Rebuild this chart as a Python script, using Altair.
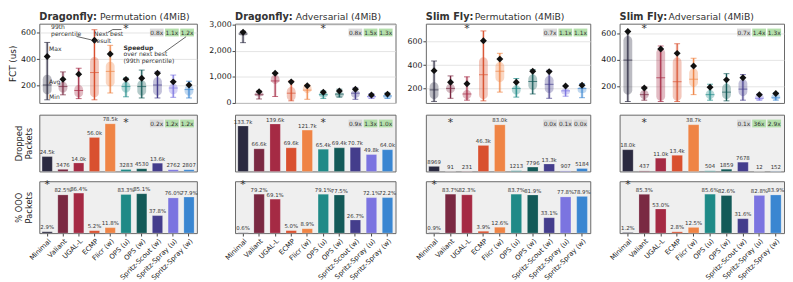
import altair as alt
import pandas as pd

CATS = ["Minimal", "Valiant", "UGAL-L", "ECMP", "Flicr (w)", "OPS (u)", "OPS (w)",
        "Spritz-Scout (w)", "Spritz-Spray (u)", "Spritz-Spray (w)"]
COLORS = ["#2b2a40", "#7a2942", "#a52a44", "#d9502f", "#ef8445", "#1f8a87", "#145a58",
          "#443d8c", "#7b74e0", "#3a86d1"]

# ---- FCT (us) : Dragonfly Permutation
dfp_min = [89, 127, 98, 89, 141, 112, 103, 103, 108, 103]
dfp_max = [527, 302, 330, 624, 505, 255, 316, 302, 278, 231]
dfp_avg = [202, 190, 160, 297, 306, 190, 190, 202, 179, 167]
dfp_p99 = [420, 245, 285, 543, 439, 245, 254, 292, 226, 202]
dfp_lo = [130, 143, 108, 108, 190, 143, 120, 120, 131, 120]
dfp_hi = [280, 226, 202, 415, 380, 226, 238, 262, 214, 202]
# ---- Dragonfly Adversarial
dfa_min = [2320, 153, 247, 82, 141, 176, 224, 141, 176, 176]
dfa_max = [2760, 460, 1165, 847, 694, 460, 529, 576, 365, 388]
dfa_avg = [2650, 318, 847, 376, 494, 318, 341, 376, 247, 270]
dfa_p99 = [2720, 435, 1141, 812, 659, 412, 459, 529, 306, 341]
dfa_lo = [2600, 259, 729, 82, 376, 224, 224, 200, 176, 176]
dfa_hi = [2750, 412, 1082, 611, 729, 412, 412, 494, 294, 318]
# ---- Slim Fly Permutation
sfp_min = [88, 115, 99, 93, 168, 125, 152, 115, 133, 120]
sfp_max = [435, 307, 299, 693, 501, 285, 360, 355, 221, 240]
sfp_avg = [187, 200, 152, 317, 347, 200, 259, 235, 179, 200]
sfp_p99 = [352, 253, 240, 608, 451, 253, 347, 344, 221, 227]
sfp_lo = [107, 160, 107, 107, 253, 147, 187, 160, 147, 160]
sfp_hi = [253, 240, 187, 467, 427, 227, 320, 307, 200, 213]
# ---- Slim Fly Adversarial
sfa_min = [85, 95, 85, 85, 137, 95, 90, 95, 95, 95]
sfa_max = [616, 195, 506, 523, 413, 216, 296, 289, 142, 151]
sfa_avg = [399, 137, 265, 235, 254, 137, 156, 179, 109, 113]
sfa_p99 = [616, 188, 483, 450, 354, 193, 249, 265, 137, 146]
sfa_lo = [137, 102, 90, 90, 195, 102, 102, 125, 95, 99]
sfa_hi = [581, 172, 488, 418, 336, 172, 219, 254, 137, 142]

# ---- Dropped packets
drop_dfp = [24500, 3476, 14000, 56000, 78500, 3283, 4530, 13600, 2762, 2807]
drop_dfp_lab = ["24.5k", "3476", "14.0k", "56.0k", "78.5k", "3283", "4530", "13.6k", "2762", "2807"]
drop_dfa = [133700, 66600, 139600, 69600, 121700, 65400, 69400, 70700, 49800, 64000]
drop_dfa_lab = ["133.7k", "66.6k", "139.6k", "69.6k", "121.7k", "65.4k", "69.4k", "70.7k", "49.8k", "64.0k"]
drop_sfp = [8969, 91, 231, 46300, 83000, 1213, 7796, 13300, 907, 5184]
drop_sfp_lab = ["8969", "91", "231", "46.3k", "83.0k", "1213", "7796", "13.3k", "907", "5184"]
drop_sfa = [18000, 437, 11000, 13400, 38700, 504, 1859, 7678, 12, 152]
drop_sfa_lab = ["18.0k", "437", "11.0k", "13.4k", "38.7k", "504", "1859", "7678", "12", "152"]

# ---- % OOO packets
ooo_dfp = [2.9, 82.5, 86.4, 5.2, 11.8, 83.3, 85.1, 37.8, 76.0, 77.9]
ooo_dfa = [0.6, 79.2, 69.1, 5.0, 8.9, 79.1, 77.5, 26.7, 72.1, 72.2]
ooo_sfp = [0.9, 83.7, 82.3, 3.9, 12.6, 83.7, 81.9, 33.1, 77.8, 78.9]
ooo_sfa = [1.2, 85.3, 53.0, 2.8, 12.5, 85.6, 82.6, 31.6, 82.8, 83.9]

# ---- speedup badges
badge_top = [["0.8x", "1.1x", "1.2x"], ["0.8x", "1.5x", "1.3x"], ["0.7x", "1.1x", "1.1x"], ["0.7x", "1.4x", "1.3x"]]
badge_top_ok = [[0, 1, 1], [0, 1, 1], [0, 1, 1], [0, 1, 1]]
badge_mid = [["0.2x", "1.2x", "1.2x"], ["0.9x", "1.3x", "1.0x"], ["0.0x", "0.1x", "0.0x"], ["0.1x", "36x", "2.9x"]]
badge_mid_ok = [[0, 1, 1], [0, 1, 1], [0, 0, 0], [0, 1, 1]]

best_top = ["OPS (u)", "OPS (u)", "UGAL-L", "Valiant"]
best_mid = ["OPS (u)", "OPS (u)", "Valiant", "Valiant"]
best_bot = ["Minimal", "Minimal", "Minimal", "Minimal"]

TITLES = [("Dragonfly:", "Permutation (4MiB)"), ("Dragonfly:", "Adversarial (4MiB)"),
          ("Slim Fly:", "Permutation (4MiB)"), ("Slim Fly:", "Adversarial (4MiB)")]

WIDTHS = [161, 164, 168, 168]
H_TOP, H_MID, H_BOT = 81, 58, 53
TXT = "#333333"
GRAY_B, GREEN_B = "#dadada", "#b4dfab"


def xenc(axis=None):
    return alt.X("cat:N", sort=CATS, title=None, axis=axis,
                 scale=alt.Scale(domain=CATS, paddingInner=0.35, paddingOuter=0.175))


COLOR = alt.Color("cat:N", scale=alt.Scale(domain=CATS, range=COLORS), legend=None)


def one(text):
    return pd.DataFrame({"t": [text]})


def label(text, x, y, size=6.2, bold=False, align="left", baseline="middle"):
    return alt.Chart(one(text)).mark_text(
        align=align, baseline=baseline, fontSize=size, color=TXT,
        fontWeight="bold" if bold else "normal").encode(
        x=alt.value(x), y=alt.value(y), text="t:N")


def seg(x0, y0, x1, y1):
    return alt.Chart(one("")).mark_rule(color="#222", strokeWidth=0.7).encode(
        x=alt.value(x0), x2=alt.value(x1), y=alt.value(y0), y2=alt.value(y1))


def badges(texts, oks, width, y0, y1):
    out = []
    for i, (t, ok) in enumerate(zip(texts, oks)):
        x1 = width - 3 - (2 - i) * 15.5
        x0 = x1 - 14
        out.append(alt.Chart(one(t)).mark_rect(fill=GREEN_B if ok else GRAY_B).encode(
            x=alt.value(x0), x2=alt.value(x1), y=alt.value(y0), y2=alt.value(y1)))
        out.append(label(t, (x0 + x1) / 2, (y0 + y1) / 2 + 0.3, size=6, align="center"))
    return out


def star(cat, y, axis=None):
    return alt.Chart(pd.DataFrame({"cat": [cat]})).mark_text(
        text="*", fontSize=11, color=TXT, baseline="middle").encode(x=xenc(axis), y=alt.value(y))


def top_panel(i, mins, maxs, avgs, p99s, los, his, domain, ticks, annot=False):
    w = WIDTHS[i]
    df = pd.DataFrame({"cat": CATS, "mn": mins, "mx": maxs, "avg": avgs,
                       "p99": p99s, "lo": los, "hi": his})
    ys = alt.Scale(domain=domain, nice=False, zero=False)
    yax = alt.Axis(values=ticks, title="FCT (us)" if i == 0 else None, grid=True,
                   gridColor="#dcdcdc", gridWidth=0.8, domain=False, tickSize=3,
                   tickColor="#444", labelFontSize=8, labelPadding=1, labelColor="#222",
                   titleFontSize=9, titleFontWeight="normal", titlePadding=3, titleColor="#222")

    def Y(f):
        return alt.Y(f"{f}:Q", scale=ys, axis=yax)

    base = alt.Chart(df)
    layers = [
        base.mark_bar(size=3, opacity=0.2).encode(x=xenc(), y=Y("mn"), y2="mx:Q", color=COLOR),
        base.mark_bar(size=9, opacity=0.32, cornerRadius=4.5).encode(x=xenc(), y=Y("lo"), y2="hi:Q", color=COLOR),
        base.mark_rule(strokeWidth=1.1).encode(x=xenc(), y=Y("mn"), y2="mx:Q", color=COLOR),
        base.mark_tick(size=6, thickness=1).encode(x=xenc(), y=Y("mn"), color=COLOR),
        base.mark_tick(size=6, thickness=1).encode(x=xenc(), y=Y("mx"), color=COLOR),
        base.mark_tick(size=9, thickness=1).encode(x=xenc(), y=Y("avg"), color=COLOR),
        base.mark_point(shape="diamond", filled=True, size=50, color="#111", opacity=1).encode(
            x=xenc(), y=Y("p99")),
        star(best_top[i], 6),
    ]
    bold, rest = TITLES[i]
    layers.append(label(bold, 0, -4, size=10, bold=True, baseline="alphabetic"))
    layers.append(label(rest, 62 if bold.startswith("Dragon") else 50, -4, size=9.5, baseline="alphabetic"))
    layers += badges(badge_top[i], badge_top_ok[i], w, 5, 13)
    if annot:
        layers += [
            label("99th", 12, 3.5), label("percentile", 12, 10.5),
            label("Next best", 56, 11), label("result", 56, 18),
            label("Max", 10, 25.7), label("Avg", 10, 59.7), label("Min", 10, 75),
            label("Speedup", 86, 24.5, bold=True), label("over next best", 86, 31.5),
            label("(99th percentile)", 86, 38),
            seg(38, 13, 53, 16.5), seg(75, 6, 84, 6), seg(75, 6, 70, 9),
            seg(128, 29, 150, 13.3),
        ]
    return alt.layer(*layers).properties(
        width=w, height=H_TOP, view=alt.ViewBackground(fill="white", stroke="#666", strokeWidth=1))


def bar_panel(i, vals, labs, domain, height, title, best, star_y, btexts=None, boks=None, xaxis=None):
    w = WIDTHS[i]
    df = pd.DataFrame({"cat": CATS, "v": vals, "lab": labs})
    ys = alt.Scale(domain=domain, nice=False)
    if i == 0:
        yax = alt.Axis(title=title, labels=False, ticks=False, domain=False, grid=False,
                       titleFontSize=8.5, titleFontWeight="normal", titlePadding=6, titleColor="#222")
    else:
        yax = None
    base = alt.Chart(df)
    layers = [
        base.mark_bar(stroke="white", strokeOpacity=0.35, strokeWidth=0.6).encode(
            x=xenc(xaxis), y=alt.Y("v:Q", scale=ys, axis=yax), color=COLOR),
        base.mark_text(fontSize=5.5, dy=-1.5, baseline="bottom", color=TXT).encode(
            x=xenc(xaxis), y=alt.Y("v:Q", scale=ys, axis=yax), text="lab:N"),
        star(best, star_y, xaxis),
    ]
    if btexts:
        layers += badges(btexts, boks, w, 5, 13)
    return alt.layer(*layers).properties(
        width=w, height=height, view=alt.ViewBackground(fill="#efefef", stroke="#666", strokeWidth=1))


XAX = alt.Axis(labelAngle=315, labelAlign="right", labelBaseline="top", labelFontSize=7,
               labelColor="#222", tickSize=3, tickColor="#444", domain=False, labelPadding=1)

tops = [
    top_panel(0, dfp_min, dfp_max, dfp_avg, dfp_p99, dfp_lo, dfp_hi, [65, 670], [200, 400, 600], annot=True),
    top_panel(1, dfa_min, dfa_max, dfa_avg, dfa_p99, dfa_lo, dfa_hi, [0, 3050], [0, 1000, 2000, 3000]),
    top_panel(2, sfp_min, sfp_max, sfp_avg, sfp_p99, sfp_lo, sfp_hi, [75, 755], [200, 400, 600]),
    top_panel(3, sfa_min, sfa_max, sfa_avg, sfa_p99, sfa_lo, sfa_hi, [74, 675], [200, 400, 600]),
]

drops = [(drop_dfp, drop_dfp_lab, 93500), (drop_dfa, drop_dfa_lab, 167000),
         (drop_sfp, drop_sfp_lab, 101000), (drop_sfa, drop_sfa_lab, 47000)]
mids = [bar_panel(i, v, l, [0, d], H_MID, ["Dropped", "Packets"], best_mid[i], 9,
                  badge_mid[i], badge_mid_ok[i]) for i, (v, l, d) in enumerate(drops)]

ooos = [(ooo_dfp, 112), (ooo_dfa, 105.5), (ooo_sfp, 111.5), (ooo_sfa, 114)]
bots = [bar_panel(i, v, [f"{x:.1f}%" for x in v], [0, d], H_BOT, ["% OOO", "Packets"],
                  best_bot[i], 4, xaxis=XAX) for i, (v, d) in enumerate(ooos)]

chart = alt.concat(*(tops + mids + bots), columns=4, align="each",
                   spacing=alt.RowColnumber(row=6, column=9)).properties(
    padding=0).configure(font="DejaVu Sans")

chart.save("out.html", embed_options={"renderer": "svg", "actions": False})
